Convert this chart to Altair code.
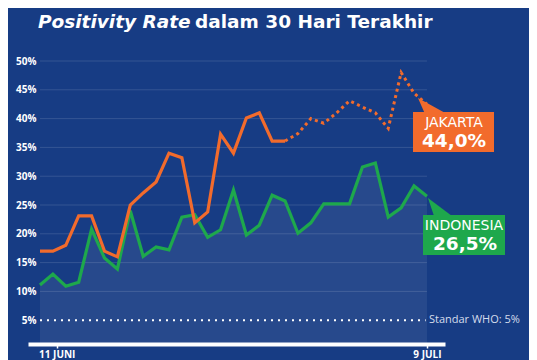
import altair as alt
import pandas as pd

# ---------------- data ----------------
hari = list(range(31))  # 9 Juni .. 9 Juli
indonesia = [11.1, 13.0, 10.9, 11.6, 20.8, 15.8, 13.9, 24.0, 16.1, 17.7,
             17.2, 22.9, 23.3, 19.4, 20.7, 27.6, 19.8, 21.5, 26.7, 25.7,
             20.1, 21.9, 25.2, 25.2, 25.2, 31.6, 32.3, 22.9, 24.5, 28.3, 26.5]
jakarta = [17.0, 17.0, 18.0, 23.1, 23.1, 17.0, 16.0, 25.0, 27.1, 29.0,
           34.0, 33.2, 21.9, 23.8, 37.3, 34.0, 40.1, 41.0, 36.1, 36.1,
           37.4, 40.0, 39.2, 41.0, 43.1, 42.0, 41.0, 38.3, 48.0, 44.4, 42.5]
jakarta_dotted_from = 19
y_ticks = [5, 10, 15, 20, 25, 30, 35, 40, 45, 50]
grid_levels = [10, 15, 20, 25, 30, 35, 40, 45, 50]
who_level = 5
x_tick_values = [1.3, 30]
x_tick_labels = ["11 JUNI", "9 JULI"]

title_a = "Positivity Rate"
title_b = "dalam 30 Hari Terakhir"
who_text = "Standar WHO: 5%"
jkt_name, jkt_value = "JAKARTA", "44,0%"
ina_name, ina_value = "INDONESIA", "26,5%"

# ---------------- style ----------------
BG = "#173c84"
ORANGE = "#f26b2c"
GREEN = "#1ea84c"
FONT = "Open Sans"
TFONT = "DejaVu Sans"
Y_MIN, Y_MAX = 0.87, 50
X_MIN, X_MAX = -0.93, 31.4

df_indo = pd.DataFrame({"hari": hari, "nilai": indonesia})
rows = []
for i, v in zip(hari, jakarta):
    if i <= jakarta_dotted_from:
        rows.append({"hari": i, "nilai": v, "seg": "solid"})
    if i >= jakarta_dotted_from:
        rows.append({"hari": i, "nilai": v, "seg": "dotted"})
df_jkt = pd.DataFrame(rows)
df_grid = pd.DataFrame({"level": grid_levels})

xs = alt.Scale(domain=[X_MIN, X_MAX], nice=False, zero=False)
ys = alt.Scale(domain=[Y_MIN, Y_MAX], nice=False, zero=False)

x_axis = alt.Axis(values=x_tick_values,
                  labelExpr="datum.value >= 30 ? '%s' : '%s'" % (x_tick_labels[1], x_tick_labels[0]),
                  domainColor="white", domainWidth=4, tickColor="white", tickSize=4,
                  tickWidth=1.5, labelColor="white", labelFont=FONT, labelFontWeight="bold",
                  labelFontSize=10, labelPadding=1, grid=False, title=None, labelFlush=False,
                  labelOverlap=False)
y_axis = alt.Axis(values=y_ticks, labelExpr="datum.value + '%'", domain=False, ticks=False,
                  grid=False, labelColor="white", labelFont=FONT, labelFontWeight="bold",
                  labelFontSize=10, offset=-8, labelPadding=0, title=None, labelOverlap=False)


def X(field):
    return alt.X(field, scale=xs, axis=x_axis)


def Y(field):
    return alt.Y(field, scale=ys, axis=y_axis)


area = alt.Chart(df_indo).mark_area(color="white", opacity=0.07).encode(
    x=X("hari:Q"), y=Y("nilai:Q"), y2=alt.datum(Y_MIN),
)

grid = alt.Chart(df_grid).mark_rule(color="white", opacity=0.13, strokeWidth=1).encode(
    y=Y("level:Q"), x=alt.datum(hari[0]), x2=alt.datum(hari[-1])
)

who = alt.Chart(pd.DataFrame({"level": [who_level]})).mark_rule(
    color="white", strokeWidth=2, strokeDash=[2, 5]).encode(
    y=Y("level:Q"), x=alt.datum(hari[0]), x2=alt.datum(hari[-1] - 0.1)
)
who_lbl = alt.Chart(pd.DataFrame({"level": [who_level], "t": [who_text]})).mark_text(
    align="left", baseline="middle", dx=2, font=FONT, fontSize=11, color="#d5ddec").encode(
    y=Y("level:Q"), x=alt.datum(hari[-1]), text="t:N"
)

jkt_solid = alt.Chart(df_jkt).transform_filter(alt.datum.seg == "solid").mark_line(
    color=ORANGE, strokeWidth=3.2, strokeJoin="miter").encode(x=X("hari:Q"), y=Y("nilai:Q"))
jkt_dot = alt.Chart(df_jkt).transform_filter(alt.datum.seg == "dotted").mark_line(
    color=ORANGE, strokeWidth=3, strokeDash=[3, 3.5]).encode(x=X("hari:Q"), y=Y("nilai:Q"))
ina_line = alt.Chart(df_indo).mark_line(color=GREEN, strokeWidth=3.2, strokeJoin="miter").encode(
    x=X("hari:Q"), y=Y("nilai:Q"))

one = pd.DataFrame({"k": [0]})


def box(x1, y1, x2, y2, color):
    return alt.Chart(one).mark_rect(color=color).encode(
        x=alt.value(x1), x2=alt.value(x2), y=alt.value(y1), y2=alt.value(y2))


def pointer(x, y, path, color):
    return alt.Chart(one).mark_point(shape=path, filled=True, size=4, opacity=1,
                                     color=color, strokeWidth=0).encode(
        x=alt.value(x), y=alt.value(y))


def label(x, y, txt, size, weight, style="normal", align="center", color="white", font=TFONT):
    return alt.Chart(one).mark_text(text=txt, font=font, fontSize=size, fontWeight=weight,
                                    fontStyle=style, align=align, baseline="alphabetic",
                                    color=color).encode(x=alt.value(x), y=alt.value(y))


callouts = [
    pointer(390, 37, "M0,0L7,16L29,16Z", ORANGE),
    box(385, 51, 466, 91, ORANGE),
    label(426, 66, jkt_name, 14, "normal"),
    label(426, 86, jkt_value, 18.5, "bold"),
    pointer(400, 137, "M0,0L6,18L24,18Z", GREEN),
    box(395, 154, 477, 194, GREEN),
    label(436, 169, ina_name, 14, "normal"),
    label(437, 189, ina_value, 18.5, "bold"),
    label(10, -33, title_a, 18.5, "bold", "italic", "left"),
    label(167, -33, title_b, 18.5, "bold", "normal", "left"),
]

chart = alt.layer(area, grid, who, who_lbl, ina_line, jkt_solid, jkt_dot, *callouts).properties(
    width=417, height=283, background=BG,
    padding={"left": 20, "top": 53, "right": 84, "bottom": 16},
    autosize=alt.AutoSizeParams(type="none"),
).configure_view(stroke=None).configure_axis(labelOverlap=False)

chart.save("out.html", embed_options={"renderer": "svg", "actions": False})
